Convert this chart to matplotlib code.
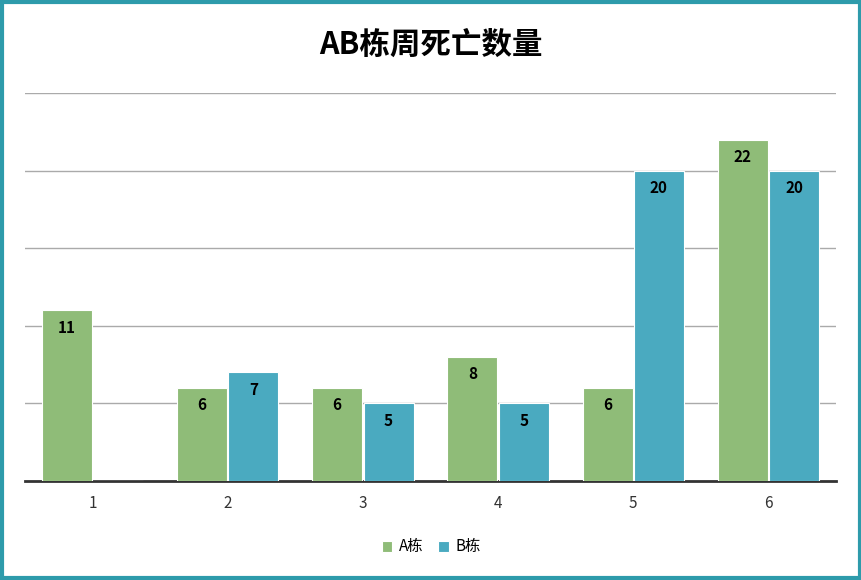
import numpy as np
import matplotlib.pyplot as plt
from matplotlib.patches import Rectangle

plt.rcParams['font.family'] = ['Noto Sans CJK SC', 'DejaVu Sans']

categories = ["1", "2", "3", "4", "5", "6"]
series_a = [11, 6, 6, 8, 6, 22]
series_b = [0, 7, 5, 5, 20, 20]
series_names = ["A栋", "B栋"]
colors = ["#8fbc78", "#4aaac0"]

fig = plt.figure(figsize=(8.62, 5.80), dpi=100)
ax = fig.add_axes([25 / 862, 1 - 481 / 580, 811 / 862, 388 / 580])

x = np.arange(len(categories))
w = 0.37
for vals, off, col, name in zip([series_a, series_b], [-0.5, 0.5], colors, series_names):
    bars = ax.bar(x + off * (w + 0.01), vals, width=w, color=col, edgecolor="white",
                  linewidth=0.8, label=name, zorder=3)
    for b, v in zip(bars, vals):
        if v:
            ax.text(b.get_x() + b.get_width() / 2, v - 0.6, str(v), ha="center", va="top",
                    fontsize=11, fontweight="bold", color="black", zorder=4)

ax.set_xlim(-0.5, 5.5)
ax.set_ylim(0, 25)
ax.set_xticks(x)
ax.set_xticklabels(categories, fontsize=11, color="#333333")
ax.set_yticks([5, 10, 15, 20, 25])
ax.tick_params(axis="y", left=False, labelleft=False)
ax.tick_params(axis="x", length=0, pad=10)
ax.grid(axis="y", color="#aaaaaa", linewidth=1, zorder=0)
for s in ["top", "right", "left"]:
    ax.spines[s].set_visible(False)
ax.spines["bottom"].set_color("#333333")
ax.spines["bottom"].set_linewidth(2)

fig.text(0.5, 1 - 45 / 580, "AB栋周死亡数量", ha="center", va="center",
         fontsize=22, fontweight="bold")
fig.legend(loc="center", bbox_to_anchor=(0.5, 1 - 547 / 580), ncol=2, frameon=False,
           fontsize=11, handlelength=0.7, handleheight=0.7, columnspacing=1.0, handletextpad=0.4)

fig.patches.append(Rectangle((0.002, 0.003), 0.996, 0.994, transform=fig.transFigure,
                             fill=False, edgecolor="#2e9bab", linewidth=3))
fig.savefig("out.png", dpi=100)
